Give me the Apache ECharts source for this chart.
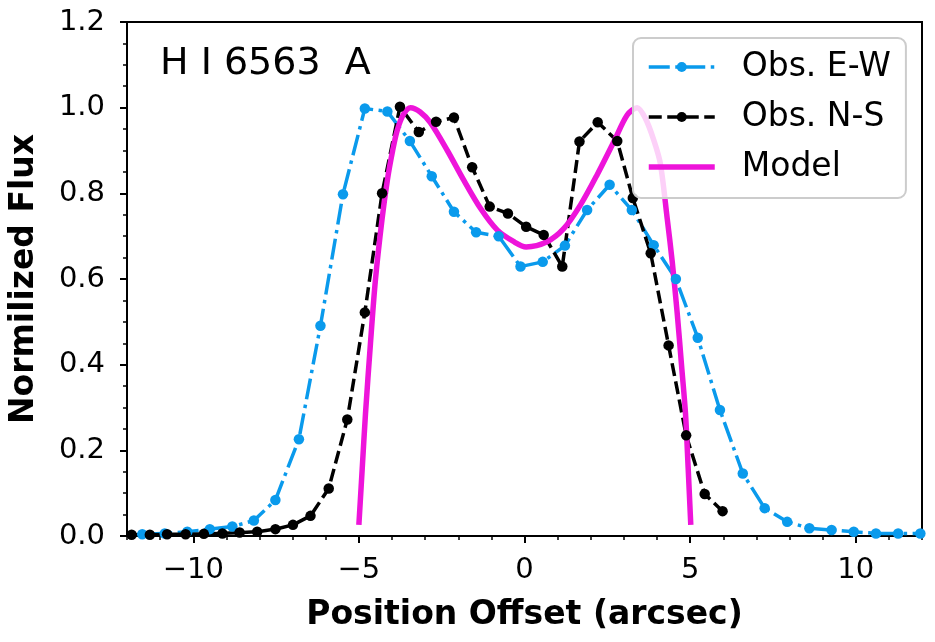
<!DOCTYPE html>
<html>
<head>
<meta charset="utf-8">
<script src="https://cdn.jsdelivr.net/npm/echarts@6/dist/echarts.min.js"></script>
<style>html,body{margin:0;padding:0;background:#fff}#c{width:935px;height:642px}</style>
</head>
<body>
<div id="c"></div>
<script>
// Obs. E-W
var ewX = [-11.54, -10.86, -10.18, -9.5, -8.82, -8.17, -7.52, -6.81, -6.16, -5.48, -4.82, -4.14, -3.46, -2.8, -2.13, -1.46, -0.78, -0.12, 0.55, 1.22, 1.89, 2.57, 3.24, 3.9, 4.57, 5.23, 5.9, 6.59, 7.25, 7.93, 8.6, 9.27, 9.94, 10.61, 11.28, 11.95];
var ewY = [0.004, 0.006, 0.01, 0.016, 0.022, 0.036, 0.084, 0.226, 0.491, 0.798, 0.998, 0.991, 0.922, 0.84, 0.757, 0.709, 0.700, 0.629, 0.640, 0.678, 0.761, 0.82, 0.761, 0.679, 0.6, 0.463, 0.294, 0.146, 0.065, 0.033, 0.018, 0.014, 0.01, 0.006, 0.006, 0.006];
// Obs. N-S
var nsX = [-11.86, -11.31, -10.79, -10.23, -9.68, -9.12, -8.6, -8.07, -7.52, -6.99, -6.46, -5.91, -5.35, -4.82, -4.3, -3.76, -3.19, -2.67, -2.13, -1.58, -1.05, -0.5, 0.05, 0.58, 1.14, 1.66, 2.21, 2.8, 3.27, 3.81, 4.35, 4.88, 5.44, 5.98];
var nsY = [0.003, 0.003, 0.004, 0.004, 0.005, 0.006, 0.008, 0.01, 0.016, 0.026, 0.047, 0.111, 0.272, 0.522, 0.80, 1.002, 0.943, 0.967, 0.977, 0.861, 0.769, 0.753, 0.722, 0.703, 0.629, 0.921, 0.966, 0.922, 0.789, 0.66, 0.445, 0.235, 0.098, 0.058];
// Model
var modelX = [-5.0, -4.9, -4.8, -4.65, -4.5, -4.3, -4.14, -3.98, -3.84, -3.65, -3.44, -3.15, -2.84, -2.33, -1.83, -1.33, -0.82, -0.32, 0.05, 0.68, 1.19, 1.69, 2.19, 2.7, 3.1, 3.4, 3.65, 3.9, 4.1, 4.31, 4.46, 4.61, 4.75, 4.86, 4.94, 5.02];
var modelY = [0.026, 0.156, 0.286, 0.45, 0.598, 0.74, 0.831, 0.9, 0.948, 0.985, 1.0, 0.99, 0.965, 0.9, 0.83, 0.765, 0.714, 0.687, 0.675, 0.687, 0.718, 0.773, 0.843, 0.921, 0.983, 1.0, 0.975, 0.925, 0.87, 0.74, 0.64, 0.52, 0.39, 0.286, 0.16, 0.026];

var xMajor = [-10, -5, 0, 5, 10];
var yTicks = [0, 0.2, 0.4, 0.6, 0.8, 1.0, 1.2];
var titleText = 'H I 6563  A';
var seriesNames = ['Obs. E-W', 'Obs. N-S', 'Model'];

function pairs(xs, ys) { return xs.map(function (x, i) { return [x, ys[i]]; }); }

var FONT = 'DejaVu Sans';
var BLUE = '#0a9aec', MAG = '#ee14da';
var chart = echarts.init(document.getElementById('c'), null, { renderer: 'canvas' });
chart.setOption({
  animation: false,
  backgroundColor: '#fff',
  title: {
    text: titleText, left: 160, top: 45, padding: 0,
    textStyle: { fontSize: 38, fontWeight: 'normal', color: '#000', fontFamily: FONT }
  },
  grid: { left: 127, right: 13, top: 22, bottom: 106, show: true, borderColor: '#000', borderWidth: 2, backgroundColor: 'transparent' },
  legend: {
    orient: 'vertical', left: 633, top: 38,
    itemWidth: 66, itemHeight: 12.5, itemGap: 10,
    padding: [9, 15, 11, 14],
    backgroundColor: 'rgba(255,255,255,0.8)', borderColor: '#cccccc', borderWidth: 2, borderRadius: 8,
    lineStyle: { width: 3.5 },
    textStyle: { fontSize: 33, fontFamily: FONT, color: '#000', padding: [0, 0, 0, 22], lineHeight: 40 },
    data: [seriesNames[0], seriesNames[1], { name: seriesNames[2], icon: 'path://M0,0L66,0L66,5.5L0,5.5Z' }]
  },
  xAxis: [{
    type: 'value', min: -12, max: 12,
    name: 'Position Offset (arcsec)', nameLocation: 'middle', nameGap: 63,
    nameTextStyle: { fontSize: 33, fontWeight: 'bold', color: '#000', fontFamily: FONT },
    axisLine: { show: true, onZero: false, lineStyle: { color: '#000', width: 2 } },
    axisTick: { show: true, length: 7, lineStyle: { color: '#000', width: 2 }, customValues: xMajor },
    axisLabel: { fontSize: 29, color: '#000', fontFamily: FONT, margin: 20, customValues: xMajor,
      formatter: function (v) { return v < 0 ? '\u2212' + Math.abs(v) : String(v); } },
    splitLine: { show: false }
  }, {
    type: 'value', min: -12, max: 12, interval: 1, position: 'bottom',
    axisLine: { show: false, onZero: false },
    axisTick: { show: true, length: 4, lineStyle: { color: '#000', width: 1.5 } },
    axisLabel: { show: false },
    splitLine: { show: false }
  }],
  yAxis: {
    type: 'value', min: 0, max: 1.2, interval: 0.2,
    name: 'Normilized Flux', nameLocation: 'middle', nameGap: 86,
    nameTextStyle: { fontSize: 33, fontWeight: 'bold', color: '#000', fontFamily: FONT },
    axisLine: { show: true, onZero: false, lineStyle: { color: '#000', width: 2 } },
    axisTick: { show: true, length: 7, lineStyle: { color: '#000', width: 2 } },
    minorTick: { show: true, splitNumber: 4, length: 4, lineStyle: { color: '#000', width: 1.5 } },
    axisLabel: { fontSize: 29, color: '#000', fontFamily: FONT, margin: 22,
      formatter: function (v) { return v.toFixed(1); } },
    splitLine: { show: false }, minorSplitLine: { show: false }
  },
  series: [{
    name: seriesNames[0], type: 'line', xAxisIndex: 0, data: pairs(ewX, ewY),
    symbol: 'circle', symbolSize: 10.5, showSymbol: true,
    itemStyle: { color: BLUE },
    lineStyle: { color: BLUE, width: 3.5, type: [21, 5.5, 3.5, 5.5] }
  }, {
    name: seriesNames[1], type: 'line', xAxisIndex: 0, data: pairs(nsX, nsY),
    symbol: 'circle', symbolSize: 10.5, showSymbol: true,
    itemStyle: { color: '#000' },
    lineStyle: { color: '#000', width: 3.5, type: [13, 5.5] }
  }, {
    name: seriesNames[2], type: 'line', xAxisIndex: 0, data: pairs(modelX, modelY),
    symbol: 'none', smooth: 0.3,
    itemStyle: { color: MAG },
    lineStyle: { color: MAG, width: 5.5 }
  }]
});
</script>
</body>
</html>
